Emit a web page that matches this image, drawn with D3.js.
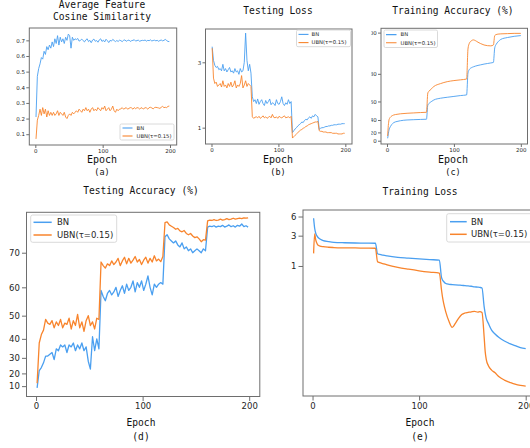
<!DOCTYPE html>
<html>
<head>
<meta charset="utf-8">
<script src="https://cdn.jsdelivr.net/npm/d3@7"></script>
<style>
  html, body { margin: 0; padding: 0; background: #fff; }
  svg { display: block; }
</style>
</head>
<body>
<svg id="fig" width="530" height="448"></svg>
<script>
// ---------- data ----------
const seriesNames = ["BN", "UBN(τ=0.15)"];

// noisy curves are logged every other epoch
const oddEpochs = d3.range(1, 200, 2);

// (a) average feature cosine similarity
const cosBN = [
  0.21,0.47,0.52,0.55,0.59,0.58,0.63,0.61,0.66,0.64, 0.67,0.65,0.69,0.66,0.71,0.68,0.73,0.67,0.72,0.69,
  0.71,0.68,0.72,0.70,0.74,0.73,0.65,0.72,0.70,0.71,
  0.705,0.712,0.695,0.700,0.708,0.698,0.690,0.703,0.710,0.692, 0.700,0.685,0.702,0.708,0.694,0.699,0.688,0.703,0.710,0.693,
  0.701,0.690,0.707,0.698,0.686,0.700,0.695,0.706,0.699,0.692,
  0.699,0.693,0.701,0.698,0.692,0.700,0.703,0.694,0.699,0.702, 0.693,0.698,0.700,0.704,0.695,0.699,0.701,0.694,0.698,0.700,
  0.699,0.702,0.695,0.700,0.698,0.703,0.696,0.699,0.701,0.697, 0.700,0.694,0.699,0.702,0.697,0.700,0.706,0.699,0.693,0.692
];
const cosUBN = [
  0.07,0.19,0.22,0.26,0.22,0.27,0.23,0.26,0.21,0.25, 0.22,0.24,0.22,0.24,0.22,0.23,0.25,0.22,0.24,0.23,
  0.22,0.24,0.21,0.20,0.22,0.23,0.22,0.24,0.23,0.24,
  0.25,0.24,0.26,0.25,0.24,0.26,0.25,0.27,0.25,0.26, 0.24,0.26,0.27,0.25,0.26,0.25,0.27,0.26,0.25,0.27,
  0.26,0.28,0.25,0.26,0.27,0.25,0.26,0.28,0.25,0.24,
  0.26,0.25,0.26,0.262,0.27,0.26,0.265,0.27,0.26,0.265, 0.27,0.268,0.26,0.27,0.263,0.27,0.268,0.26,0.27,0.265,
  0.262,0.27,0.268,0.26,0.27,0.272,0.268,0.262,0.27,0.272, 0.27,0.268,0.265,0.272,0.278,0.27,0.272,0.27,0.278,0.28
];

// (b) testing loss
const testLossBN = [
  3.9,3.1,2.85,2.75,2.8,2.65,2.7,2.6,2.9,2.6, 2.7,2.55,2.65,2.75,2.55,2.6,2.5,2.7,2.55,2.6,
  2.45,2.7,2.55,2.6,3.0,4.9,3.1,2.6,2.9,2.5,
  1.68,1.55,1.6,1.5,1.62,1.48,1.55,1.6,1.5,1.45, 1.58,1.5,1.55,1.62,1.47,1.52,1.5,1.45,1.6,1.5,
  1.48,1.55,1.68,1.5,1.45,1.52,1.48,1.6,1.5,1.55,
  0.92,0.95,0.98,1.0,1.03,1.05,1.07,1.1,1.09,1.13, 1.15,1.14,1.18,1.2,1.17,1.22,1.2,1.25,1.22,1.2,
  0.97,0.99,1.0,1.0,1.01,1.02,1.02,1.03,1.03,1.04, 1.04,1.05,1.05,1.05,1.06,1.06,1.06,1.07,1.07,1.07
];
const testLossUBN = [
  3.8,2.3,2.1,2.15,2.0,2.05,2.1,1.98,2.2,2.0, 2.05,1.95,2.1,2.0,2.15,1.98,2.05,2.2,1.95,2.05,
  2.0,2.1,2.4,1.95,2.05,2.2,2.0,2.1,2.05,2.0,
  1.2,1.17,1.19,1.2,1.18,1.21,1.17,1.19,1.22,1.18, 1.2,1.17,1.19,1.21,1.18,1.25,1.19,1.18,1.2,1.17,
  1.21,1.19,1.18,1.2,1.22,1.18,1.19,1.2,1.18,1.21,
  0.84,0.86,0.88,0.9,0.92,0.94,0.96,0.97,0.99,1.0, 1.02,1.03,1.05,1.06,1.07,1.08,1.09,1.1,1.1,1.11,
  0.95,0.94,0.94,0.93,0.93,0.93,0.92,0.92,0.92,0.92, 0.91,0.91,0.91,0.91,0.9,0.9,0.9,0.9,0.91,0.91
];

// (c) training accuracy (%), smooth curves logged at these epochs
const trainAccEpochs = [1,2,3,4,5,7,10,15,20,30,40,50,59,61,63,66,70,80,90,100,110,119,
  121,123,126,129,132,136,140,145,150,155,159,161,163,166,170,180,190,200];
const trainAccBN = [6.6,17,24.5,28,30.2,33.5,36.3,38,39,40,40.4,40.7,41,56.8,58.3,59.8,61.3,62.8,63.6,64.3,65,65.5,
  80.5,82.5,83.5,84,84.4,84.8,85.1,85.5,85.8,86.1,86.4,93.5,95,96.2,97.2,98,98.5,98.8];
const trainAccUBN = [12.3,32,40,42.3,43.5,45,46.2,47,47.6,48.2,48.6,49,49.3,67,68.5,70,71.8,73.8,75.1,75.8,76.3,76.8,
  93,95.5,96.6,97,96.7,96,95.4,94.8,94.5,94.4,94.8,98.8,99.2,99.4,99.5,99.6,99.7,99.7];

// (d) testing accuracy (%)
const testAccBN = [
  8.5,22,24,27,31,31,32,33,29,35, 34,37,36,37,33,37,36,38,34,37,
  35,38,34,36,28,23,41,34,40,35,
  59,57,55.5,58,59,57.5,58.5,60,57,59, 60.5,58,61,59,60,62,58.5,61.5,60,62,
  59,61,63.5,60,57.5,61,60,61,61.5,61,
  74,74.5,73.5,73,72.5,73,72,71.5,72.5,71, 71.5,70.5,71,70,70.5,71,70.5,70,71,70.5,
  76.3,76.5,76.4,76.6,76.3,76.5,76.4,76.7,76.3,76.5, 76.8,76.4,76.6,76.3,76.7,76.5,77,76.4,76.6,76.3
];
const testAccUBN = [
  12.5,38,42,44,48.5,47,46.5,48,45,47.5, 46,48.5,45,47,46.5,49,44.5,48,46,50.5,
  45,47.5,43.5,48,50,46,47.5,44.5,49,48.5,
  67.5,66.5,65.8,67,66.5,67.8,66.8,67.5,68.5,66.5, 67.8,68.8,67,68.5,67.2,68,69,67.5,68.2,66.8,
  68,68.8,67.2,68.5,67.5,69.2,67.8,68.3,67.6,69,
  77.3,77.5,76.8,76.5,76.2,75.8,76,75.4,75.2,75.5, 74.8,74.5,74.8,74.2,73.8,74,73.5,72.8,73.3,73.2,
  77.7,77.9,77.8,78,77.8,77.9,78.1,77.9,78,78.2, 78,78.1,78.3,78.1,78.2,78.3,78.2,78.4,78.3,78.4
];

// (e) training loss, smooth curves logged at these epochs
const trainLossEpochs = [1,2,3,4,5,7,10,15,20,30,40,50,59,61,63,66,70,80,90,100,110,119,
  121,122,123,125,128,131,134,137,140,143,146,149,152,155,157,159,
  161,162,163,165,168,171,175,180,185,190,195,200];
const trainLossBN = [5.64,3.92,3.27,3.0,2.83,2.65,2.5,2.42,2.36,2.32,2.3,2.29,2.28,1.56,1.52,1.48,1.44,1.37,1.33,1.29,1.26,1.24,
  0.66,0.6,0.57,0.53,0.515,0.51,0.505,0.5,0.496,0.49,0.485,0.48,0.47,0.465,0.46,0.45,
  0.23,0.18,0.15,0.125,0.098,0.086,0.075,0.066,0.06,0.056,0.052,0.05];
const trainLossUBN = [1.58,3.19,2.57,2.3,2.14,2.06,2.01,1.97,1.95,1.93,1.92,1.91,1.9,1.17,1.13,1.09,1.04,0.95,0.89,0.84,0.8,0.77,
  0.42,0.32,0.26,0.19,0.135,0.108,0.125,0.15,0.172,0.182,0.186,0.19,0.193,0.188,0.192,0.185,
  0.077,0.045,0.034,0.027,0.023,0.021,0.018,0.016,0.0148,0.0138,0.0132,0.0129];

// tick labels
const epochTicks = [0, 100, 200];
const cosTicks = [0.1, 0.2, 0.3, 0.4, 0.5, 0.6, 0.7];
const testLossTicks = [1, 3];
const trainAccTicks = [0, 20, 40, 60, 80, 100];
const testAccTicks = [10, 20, 30, 40, 50, 60, 70];
const trainLossTicks = [1, 3, 6];

// ---------- drawing ----------
const COLORS = ["#4a9ff0", "#f8842c"];
const SPINE = "#6e6e6e";
const MONO = "'DejaVu Sans Mono', monospace";
const SANS = "'DejaVu Sans', sans-serif";
const xDomain = [-8.95, 209.95];

const svg = d3.select("#fig");

// accuracy axes use an exponential warp: position is linear in exp(v / 50)
function expScale(domain, range, k) {
  const lin = d3.scaleLinear().domain(domain.map(v => Math.exp(v / k))).range(range);
  const s = v => lin(Math.exp(v / k));
  s.domain = () => domain;
  s.range = () => range;
  s.copy = () => s;
  return s;
}

function drawPanel(p) {
  const [l, t, r, b] = p.box;
  const root = svg.append("g");
  if (p.clipX != null) {
    const id = "clip-" + p.key;
    svg.append("clipPath").attr("id", id)
      .append("rect").attr("x", p.clipX).attr("y", 0).attr("width", 530).attr("height", 448);
    root.attr("clip-path", `url(#${id})`);
  }
  const x = d3.scaleLinear().domain(xDomain).range([l, r]);
  const y = p.y;

  const line = d3.line().x(d => x(d[0])).y(d => y(d[1]));
  if (p.smooth) line.curve(d3.curveMonotoneX);

  p.series.forEach((vals, i) => {
    root.append("path")
      .datum(p.epochs.map((e, j) => [e, vals[j]]))
      .attr("d", line)
      .attr("fill", "none")
      .attr("stroke", COLORS[i])
      .attr("stroke-width", p.lw)
      .attr("stroke-linejoin", "round");
  });

  root.append("rect")
    .attr("x", l).attr("y", t).attr("width", r - l).attr("height", b - t)
    .attr("fill", "none").attr("stroke", SPINE).attr("stroke-width", 1);

  const xAxis = root.append("g").attr("transform", `translate(0,${b})`)
    .call(d3.axisBottom(x).tickValues(epochTicks).tickSize(p.tick).tickPadding(p.pad).tickSizeOuter(0));
  const yAxis = root.append("g").attr("transform", `translate(${l},0)`)
    .call(d3.axisLeft(y).tickValues(p.yTicks).tickFormat(d => String(d)).tickSize(p.tick).tickPadding(p.pad).tickSizeOuter(0));
  [xAxis, yAxis].forEach(ax => {
    ax.select(".domain").remove();
    ax.selectAll("line").attr("stroke", SPINE);
    ax.selectAll("text").attr("fill", "#262626").attr("font-size", p.tickFont).attr("font-family", SANS);
  });

  // title, x label and panel letter
  p.title.forEach((s, i) => {
    root.append("text").attr("x", p.cx).attr("y", p.titleY + i * p.titleGap)
      .attr("text-anchor", "middle").attr("font-family", MONO).attr("font-size", p.titleFont)
      .attr("fill", "#111").text(s);
  });
  root.append("text").attr("x", p.cx).attr("y", p.xlabY)
    .attr("text-anchor", "middle").attr("font-family", MONO).attr("font-size", p.xlabFont)
    .attr("fill", "#111").text("Epoch");
  root.append("text").attr("x", p.cx).attr("y", p.letterY)
    .attr("text-anchor", "middle").attr("font-family", MONO).attr("font-size", p.letterFont)
    .attr("fill", "#111").text(`(${p.key})`);

  // legend
  const L = p.legend;
  const lg = root.append("g");
  lg.append("rect").attr("x", L.x).attr("y", L.y).attr("width", L.w).attr("height", L.h)
    .attr("rx", L.rx).attr("fill", "#fff").attr("fill-opacity", 0.85)
    .attr("stroke", "#d0d0d0").attr("stroke-width", 0.8);
  seriesNames.forEach((name, i) => {
    const ry = L.rows[i];
    lg.append("line").attr("x1", L.h0).attr("x2", L.h1).attr("y1", ry).attr("y2", ry)
      .attr("stroke", COLORS[i]).attr("stroke-width", p.lw + 0.2);
    lg.append("text").attr("x", L.tx).attr("y", ry).attr("dy", "0.35em")
      .attr("font-family", SANS).attr("font-size", L.font).attr("fill", "#262626").text(name);
  });
}

const small = { lw: 0.9, tick: 3, pad: 1.2, tickFont: 5.5, titleFont: 9.6, titleGap: 11.6,
  xlabFont: 10, xlabY: 162.5, letterFont: 8.5, letterY: 174.5 };
const large = { lw: 1.3, tick: 4.5, pad: 2.2, tickFont: 8.5, titleFont: 9.6, titleGap: 0,
  xlabFont: 9.6, xlabY: 426, letterFont: 9.6, letterY: 439.5 };

const panels = [
  Object.assign({}, small, {
    key: "a", box: [29.3, 28, 176.7, 145], cx: 102, title: ["Average Feature", "Cosine Similarity"], titleY: 8.2,
    y: d3.scaleLinear().domain([0.031, 0.779]).range([145, 28]), yTicks: cosTicks,
    epochs: oddEpochs, series: [cosBN, cosUBN],
    legend: { x: 120, y: 124, w: 54, h: 16, rx: 1.5, rows: [128, 136], h0: 122.5, h1: 132.5, tx: 136.5, font: 5.3 }
  }),
  Object.assign({}, small, {
    key: "b", box: [205.5, 29, 352, 144], cx: 278, title: ["Testing Loss"], titleY: 13.5,
    y: d3.scaleLog().domain([0.76, 5.25]).range([144, 29]), yTicks: testLossTicks,
    epochs: oddEpochs, series: [testLossBN, testLossUBN],
    legend: { x: 296.5, y: 30, w: 54, h: 16.7, rx: 1.5, rows: [34.4, 42.6], h0: 298.5, h1: 308.5, tx: 311.5, font: 5.3 }
  }),
  Object.assign({}, small, {
    key: "c", box: [381, 28.3, 527.5, 144], cx: 453, title: ["Training Accuracy (%)"], titleY: 13.5, clipX: 371.4,
    y: expScale([-10.8, 101.7], [144, 28.3], 50), yTicks: trainAccTicks,
    epochs: trainAccEpochs, series: [trainAccBN, trainAccUBN], smooth: true,
    legend: { x: 384, y: 30, w: 53.5, h: 17.5, rx: 1.5, rows: [34.6, 42.8], h0: 386, h1: 396.5, tx: 400.5, font: 5.3 }
  }),
  Object.assign({}, large, {
    key: "d", box: [26.5, 212.3, 259.8, 396.5], cx: 141, title: ["Testing Accuracy (%)"], titleY: 194,
    y: expScale([0.06, 79.6], [396.5, 212.3], 50), yTicks: testAccTicks,
    epochs: oddEpochs, series: [testAccBN, testAccUBN],
    legend: { x: 30.7, y: 215, w: 86, h: 27.3, rx: 2, rows: [222.3, 235], h0: 33.5, h1: 51.7, tx: 57, font: 8.5 }
  }),
  Object.assign({}, large, {
    key: "e", box: [303, 210, 536.3, 396], cx: 420, title: ["Training Loss"], titleY: 194.5,
    y: d3.scaleLog().domain([0.009, 7.6]).range([396, 210]), yTicks: trainLossTicks,
    epochs: trainLossEpochs, series: [trainLossBN, trainLossUBN], smooth: true,
    legend: { x: 446.7, y: 213.7, w: 95, h: 28.3, rx: 2, rows: [221.7, 234.3], h0: 450, h1: 466.7, tx: 471, font: 8.5 }
  })
];

panels.forEach(drawPanel);
</script>
</body>
</html>
